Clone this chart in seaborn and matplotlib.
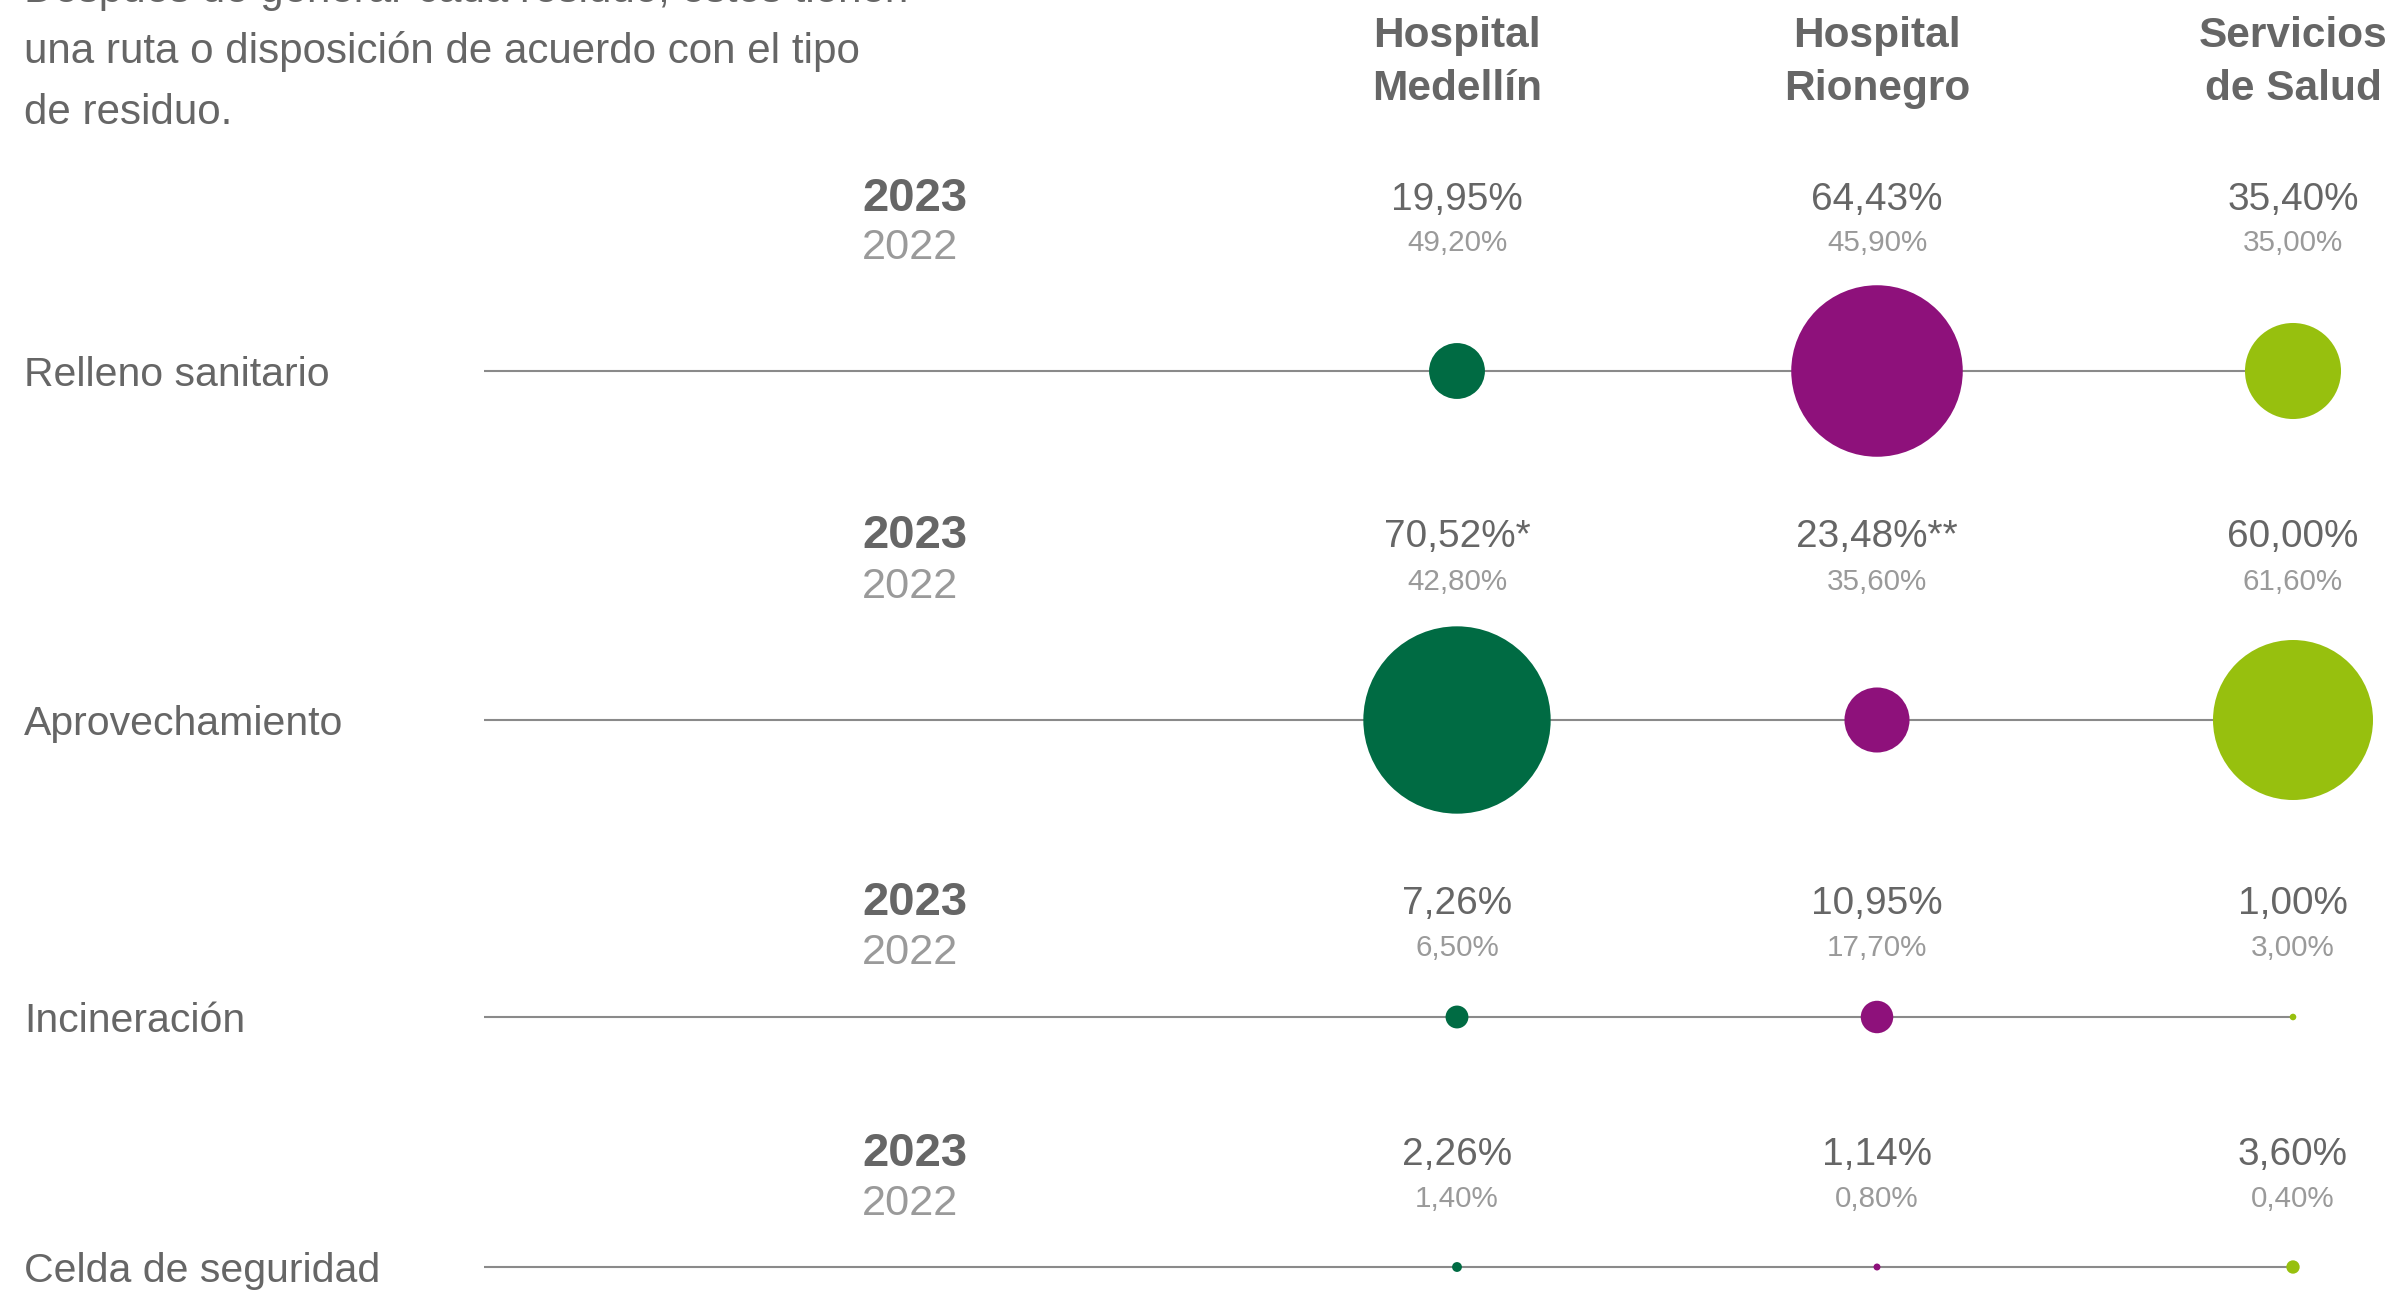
import matplotlib
matplotlib.use("Agg")
import matplotlib.pyplot as plt
import pandas as pd
import seaborn as sns

# ---- data -------------------------------------------------------------
entidades = ["Hospital\nMedellín", "Hospital\nRionegro", "Servicios\nde Salud"]
categorias = ["Relleno sanitario", "Aprovechamiento", "Incineración", "Celda de seguridad"]

valores_2023 = [
    [19.95, 64.43, 35.40],
    [70.52, 23.48, 60.00],
    [7.26, 10.95, 1.00],
    [2.26, 1.14, 3.60],
]
valores_2022 = [
    [49.20, 45.90, 35.00],
    [42.80, 35.60, 61.60],
    [6.50, 17.70, 3.00],
    [1.40, 0.80, 0.40],
]
notas_2023 = [
    ["", "", ""],
    ["*", "**", ""],
    ["", "", ""],
    ["", "", ""],
]
anio_actual = "2023"
anio_previo = "2022"
intro = [
    "Después de generar cada residuo, estos tienen",
    "una ruta o disposición de acuerdo con el tipo",
    "de residuo.",
]
colores = {"Hospital\nMedellín": "#006b43",
           "Hospital\nRionegro": "#8e117b",
           "Servicios\nde Salud": "#97c00e"}

# ---- layout (pixel units of the canvas) -------------------------------
W, H = 2387, 1300
col_x = [1457, 1877, 2293]
fila_y = [371, 720, 1017, 1267]
base_2023 = [210, 547, 914, 1165]
base_2022 = [251, 590, 956, 1207]
linea_x0 = 484
anio_x = 862
label_x = 24

sns.set_theme(style="white")
plt.rcParams["font.family"] = ["Liberation Sans", "DejaVu Sans"]

OSCURO = "#666666"
CLARO = "#9a9a9a"
LINEA = "#8a8a8a"

fig = plt.figure(figsize=(W / 100, H / 100), dpi=100)
ax = fig.add_axes([0, 0, 1, 1])

# ---- long table for the bubbles --------------------------------------
filas = []
for i, cat in enumerate(categorias):
    for j, ent in enumerate(entidades):
        filas.append({"categoria": cat, "entidad": ent,
                      "valor": valores_2023[i][j],
                      "x": col_x[j], "y": fila_y[i]})
df = pd.DataFrame(filas)

# bubble diameter grows linearly with the percentage
def area(v):
    d_px = 2.6 * v + 4
    return (d_px * 0.72) ** 2

tamanos = {v: area(v) for v in df["valor"]}

# horizontal guide lines
for y in fila_y:
    ax.plot([linea_x0, col_x[-1]], [y, y], color=LINEA, lw=1.5, zorder=1,
            solid_capstyle="butt")

sns.scatterplot(data=df, x="x", y="y", hue="entidad", palette=colores,
                size="valor", sizes=tamanos, legend=False, linewidth=0,
                ax=ax, zorder=3)
ax.set_xlim(0, W)
ax.set_ylim(H, 0)
ax.axis("off")

def fmt(v):
    return f"{v:.2f}%".replace(".", ",")

# intro paragraph
for n, linea in enumerate(intro):
    ax.text(label_x, 2 + 61 * n, linea, fontsize=30.3, color=OSCURO,
            ha="left", va="baseline")

# column headers
for j, ent in enumerate(entidades):
    for n, parte in enumerate(ent.split("\n")):
        ax.text(col_x[j], 47 + 53 * n, parte, fontsize=30.5,
                fontweight="bold", color=OSCURO, ha="center", va="baseline")

for i, cat in enumerate(categorias):
    ax.text(label_x, fila_y[i] + 15, cat, fontsize=29.5, color=OSCURO,
            ha="left", va="baseline")
    ax.text(anio_x, base_2023[i] + 1, anio_actual, fontsize=34,
            fontweight="bold", color=OSCURO, ha="left", va="baseline")
    ax.text(anio_x, base_2022[i] + 8, anio_previo, fontsize=31.2,
            color=CLARO, ha="left", va="baseline")
    for j in range(len(entidades)):
        ax.text(col_x[j], base_2023[i],
                fmt(valores_2023[i][j]) + notas_2023[i][j],
                fontsize=27.9, color=OSCURO, ha="center", va="baseline")
        ax.text(col_x[j], base_2022[i], fmt(valores_2022[i][j]),
                fontsize=21.3, color=CLARO, ha="center", va="baseline")

fig.savefig("out.png", dpi=100, facecolor="white")
